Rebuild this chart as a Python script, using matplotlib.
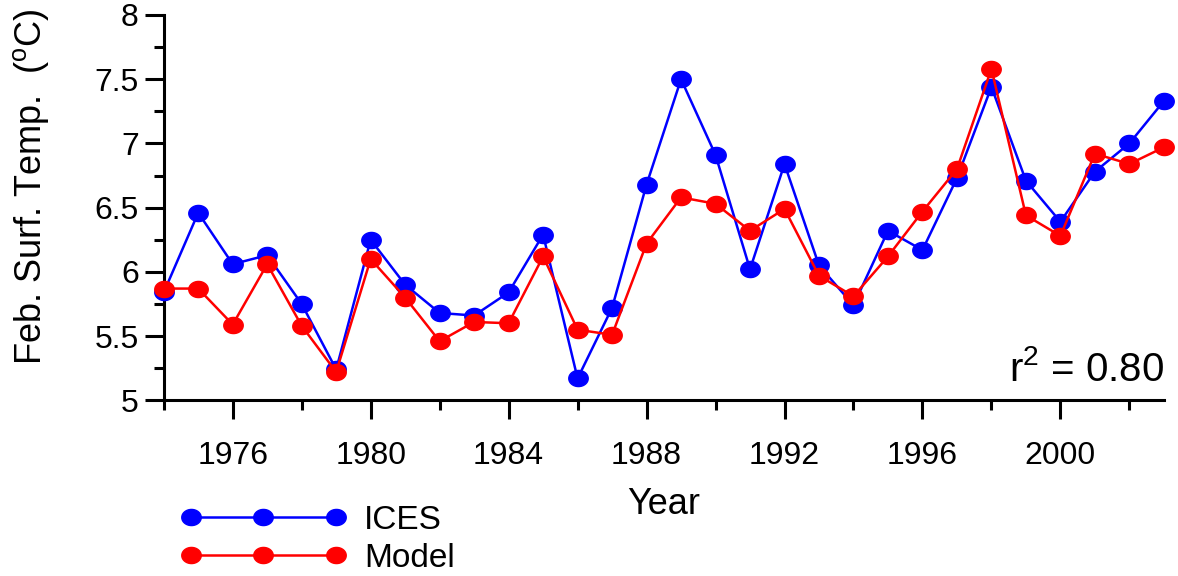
import numpy as np
import matplotlib
matplotlib.use("Agg")
import matplotlib.pyplot as plt
from matplotlib.path import Path

years = list(range(1974, 2004))
ices = [5.84, 6.46, 6.06, 6.13, 5.75, 5.24, 6.25, 5.90, 5.68, 5.66,
        5.84, 6.29, 5.17, 5.72, 6.68, 7.50, 6.91, 6.02, 6.84, 6.05,
        5.74, 6.32, 6.17, 6.73, 7.44, 6.71, 6.39, 6.78, 7.00, 7.33]
model = [5.87, 5.87, 5.59, 6.06, 5.58, 5.22, 6.10, 5.80, 5.46, 5.61,
         5.60, 6.12, 5.55, 5.51, 6.22, 6.58, 6.53, 6.32, 6.49, 5.97,
         5.81, 6.12, 6.47, 6.80, 7.58, 6.44, 6.28, 6.92, 6.84, 6.97]
x_major = [1976, 1980, 1984, 1988, 1992, 1996, 2000]
x_minor = [1974, 1978, 1982, 1986, 1990, 1994, 1998, 2002]
y_major = [5, 5.5, 6, 6.5, 7, 7.5, 8]
y_labels = ['5', '5.5', '6', '6.5', '7', '7.5', '8']
y_minor = [5.25, 5.75, 6.25, 6.75, 7.25, 7.75]
r2_text = "r$^2$ = 0.80"

plt.rcParams['font.family'] = ['Liberation Sans', 'DejaVu Sans']
plt.rcParams['mathtext.fontset'] = 'custom'
plt.rcParams['mathtext.rm'] = 'Liberation Sans'

# slightly wide ellipse marker, like the original
t = np.linspace(0, 2 * np.pi, 60)
ell = Path(np.column_stack([np.cos(t), 0.83 * np.sin(t)]), closed=True)

fig = plt.figure(figsize=(11.78, 5.76), dpi=100)
ax = fig.add_axes([0.139, 0.305, 0.849, 0.669])

ax.plot(years, ices, color='#0000ff', lw=1.8, marker=ell, ms=14,
        mec='#0000ff', mfc='#0000ff', label='ICES', clip_on=False, zorder=3)
ax.plot(years, model, color='#ff0000', lw=1.8, marker=ell, ms=14,
        mec='#ff0000', mfc='#ff0000', label='Model', clip_on=False, zorder=4)

ax.set_xlim(1974, 2003)
ax.set_ylim(5, 8)
ax.set_xticks(x_major)
ax.set_xticks(x_minor, minor=True)
ax.set_yticks(y_major)
ax.set_yticklabels(y_labels)
ax.set_yticks(y_minor, minor=True)

for s in ['top', 'right']:
    ax.spines[s].set_visible(False)
for s in ['left', 'bottom']:
    ax.spines[s].set_linewidth(2.2)

ax.tick_params(which='major', direction='out', length=14, width=2.2,
               labelsize=23, pad=4)
ax.tick_params(axis='x', which='major', pad=15)
ax.tick_params(which='minor', direction='out', length=7, width=2.2)

ax.set_xlabel('Year', fontsize=26, labelpad=12)
ax.set_ylabel('Feb. Surf. Temp.  ($^{\\rm o}$C)', fontsize=26)
ax.yaxis.set_label_coords(-0.113, 0.553)

ax.text(1.0, 0.05, r2_text, transform=ax.transAxes, ha='right',
        va='baseline', fontsize=29)

fig.legend(loc='upper left', bbox_to_anchor=(0.142, 0.147), numpoints=3,
           handlelength=4.95, handletextpad=0.55, labelspacing=0.22,
           frameon=False, fontsize=24, borderaxespad=0)

fig.savefig('out.png', dpi=100)
